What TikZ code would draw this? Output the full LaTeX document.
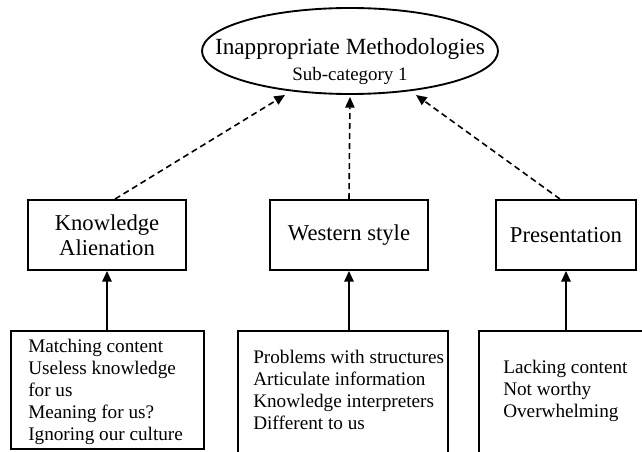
\documentclass[tikz,border=0pt]{standalone}
\usepackage{fontspec}
\setmainfont{Liberation Serif}
\usetikzlibrary{arrows.meta}
\usetikzlibrary{shapes.geometric}
\tikzset{
catbox/.style={draw, line width=1.4pt, inner sep=0pt, align=center,
    minimum height=52.5pt, font=\fontsize{17}{18.75}\selectfont},
listbox/.style={draw, line width=1.4pt, inner sep=0pt, anchor=north west},
listtext/.style={inner sep=0pt, anchor=north west, align=left,
    font=\fontsize{14.4}{16.5}\selectfont},
->-/.style={-{Triangle[length=8pt,width=7pt]}, line width=1.4pt},
-->-/.style={-{Triangle[length=8pt,width=7pt]}, line width=1.2pt,
    dash pattern=on 4.5pt off 3pt}}

\begin{document}
\begin{tikzpicture}[x=0.75pt,y=-0.75pt]
                \useasboundingbox (0,0) rectangle (642,452);
                \clip (0,0) rectangle (642,452);

                \node[shape=ellipse, draw, line width=1.4pt, inner sep=0pt,
                    minimum width=222pt, minimum height=64.5pt] (M) at (350,51) {};
                \node[anchor=base, inner sep=0pt, font=\fontsize{17.4}{19}\selectfont]
                    (M1) at (350,55) {Inappropriate Methodologies};
                \node[anchor=base, inner sep=0pt, font=\fontsize{14.2}{16}\selectfont]
                    (M2) at (350,81) {Sub-category 1};

                \node[catbox, minimum width=118.5pt] (K) at (107,235) {Knowledge\\Alienation};
                \node[catbox, minimum width=118.5pt] (W) at (349,235) {Western style};
                \node[catbox, minimum width=105pt] (P) at (566,235) {Presentation};

                \node[listbox, minimum width=144.75pt, minimum height=88.5pt] (KL) at (10,330) {};
                \node[listbox, minimum width=157.5pt, minimum height=110pt] (WL) at (237,330) {};
                \node[listbox, minimum width=140pt, minimum height=110pt] (PL) at (478,330) {};

                \node[listtext] (KT) at (28,338.5) {Matching content\\Useless knowledge\\for us\\Meaning for us?\\Ignoring our culture};
                \node[listtext] (WT) at (253,350) {Problems with structures\\Articulate information\\Knowledge interpreters\\Different to us};
                \node[listtext] (PT) at (503,360) {Lacking content\\Not worthy\\Overwhelming};

                \coordinate (ML) at (285,95);
                \coordinate (MM) at (350,97);
                \coordinate (MR) at (416,95);

                \draw[-->-] ([xshift=6pt]K.north) -- (ML);
                \draw[-->-] (W.north) -- (MM);
                \draw[-->-] ([xshift=-4.5pt]P.north) -- (MR);

                \draw[->-] (K.south |- KL.north) -- (K.south);
                \draw[->-] (W.south |- WL.north) -- (W.south);
                \draw[->-] (P.south |- PL.north) -- (P.south);

\end{tikzpicture}
\end{document}
